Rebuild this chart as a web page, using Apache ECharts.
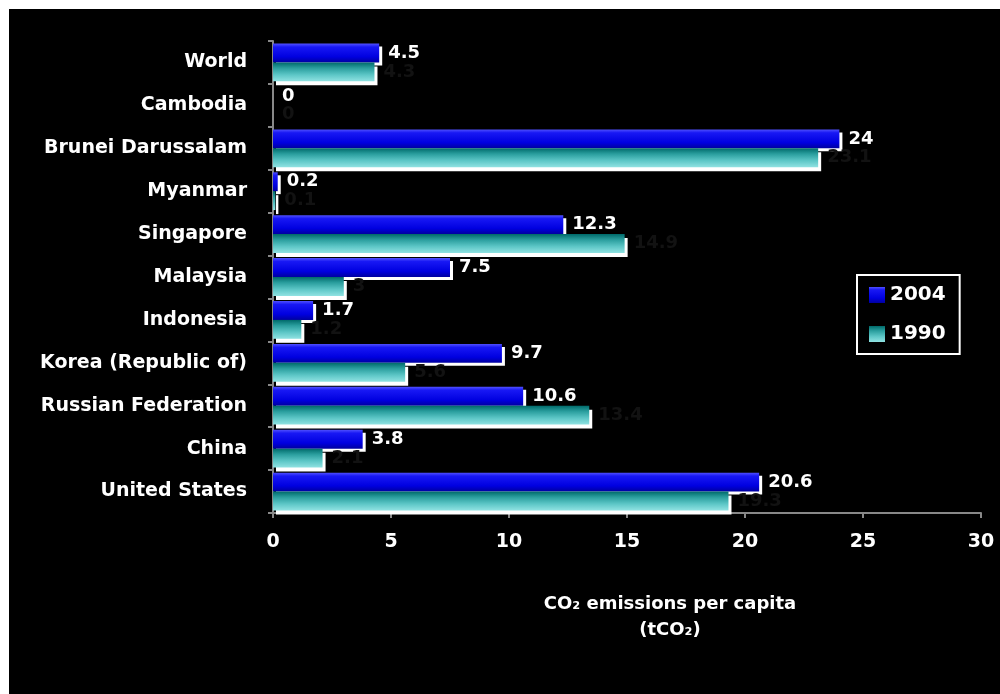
<!DOCTYPE html>
<html>
<head>
<meta charset="utf-8">
<script src="https://cdn.jsdelivr.net/npm/echarts@6/dist/echarts.min.js"></script>
<style>
html,body{margin:0;padding:0;background:#fff;width:1000px;height:694px;overflow:hidden;}
#chart{position:absolute;left:9px;top:9px;width:991px;height:685px;background:#000;}
</style>
</head>
<body>
<div id="chart"></div>
<script>
const categories = ['United States','China','Russian Federation','Korea (Republic of)','Indonesia','Malaysia','Singapore','Myanmar','Brunei Darussalam','Cambodia','World'];
const values2004 = [20.6, 3.8, 10.6, 9.7, 1.7, 7.5, 12.3, 0.2, 24, 0, 4.5];
const values1990 = [19.3, 2.1, 13.4, 5.6, 1.2, 3.0, 14.9, 0.1, 23.1, 0, 4.3];
const xTicks = [0, 5, 10, 15, 20, 25, 30];

const FONT = 'DejaVu Sans';
const chart = echarts.init(document.getElementById('chart'));
const blueGrad = new echarts.graphic.LinearGradient(0,0,0,1,[
  {offset:0,color:'#5050ff'},{offset:0.18,color:'#1818f4'},{offset:0.7,color:'#0000e0'},{offset:1,color:'#0000a0'}]);
const cyanGrad = new echarts.graphic.LinearGradient(0,0,0,1,[
  {offset:0,color:'#006a6a'},{offset:0.3,color:'#2a9e9e'},{offset:0.65,color:'#5cc6c6'},{offset:1,color:'#90e2e2'}]);

chart.setOption({
  backgroundColor:'#000',
  animation:false,
  grid:{left:264,right:19,top:32,bottom:181},
  legend:{
    data:['2004','1990'],
    orient:'vertical',
    left:848, top:266,
    padding:[10,14,10,12],
    itemGap:19,
    itemWidth:16, itemHeight:16,
    icon:'rect',
    borderColor:'#fff', borderWidth:2,
    textStyle:{color:'#fff',fontFamily:FONT,fontWeight:'bold',fontSize:20}
  },
  xAxis:{
    type:'value', min:xTicks[0], max:xTicks[xTicks.length-1], interval:5,
    splitLine:{show:false},
    axisLine:{show:true,lineStyle:{color:'#888',width:2}},
    axisTick:{show:true,length:5,lineStyle:{color:'#888',width:2}},
    axisLabel:{color:'#fff',fontFamily:FONT,fontWeight:'bold',fontSize:19,margin:20}
  },
  yAxis:{
    type:'category', data:categories,
    axisLine:{show:true,lineStyle:{color:'#888',width:2}},
    axisTick:{show:true,length:5,lineStyle:{color:'#888',width:2}},
    axisLabel:{color:'#fff',fontFamily:FONT,fontWeight:'bold',fontSize:19,margin:26}
  },
  graphic:[{
    type:'text', x:661, y:582,
    style:{text:'CO₂ emissions per capita\n(tCO₂)',fill:'#fff',font:'bold 18px "DejaVu Sans"',textAlign:'center',lineHeight:26}
  }],
  series:[
    {
      name:'2004', type:'bar', data:values2004,
      barGap:'0%', barCategoryGap:'12%',
      itemStyle:{color:blueGrad, shadowColor:'#fff', shadowBlur:0, shadowOffsetX:3, shadowOffsetY:3},
      label:{show:true,position:'right',distance:9,color:'#fff',fontFamily:FONT,fontWeight:'bold',fontSize:18}
    },
    {
      name:'1990', type:'bar', data:values1990,
      barGap:'0%', barCategoryGap:'12%',
      itemStyle:{color:cyanGrad, shadowColor:'#fff', shadowBlur:0, shadowOffsetX:3, shadowOffsetY:4},
      label:{show:true,position:'right',distance:9,color:'#121212',fontFamily:FONT,fontWeight:'bold',fontSize:18}
    }
  ]
});
</script>
</body>
</html>
